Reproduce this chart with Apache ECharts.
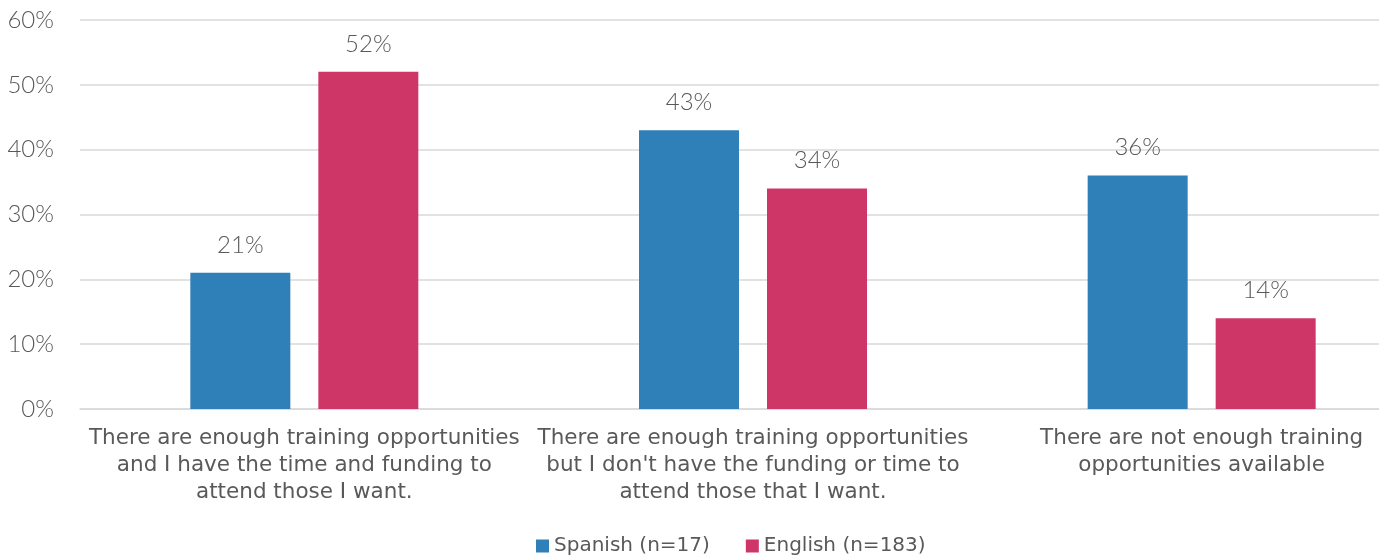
<!DOCTYPE html>
<html>
<head>
<meta charset="utf-8">
<script src="https://cdn.jsdelivr.net/npm/echarts@6/dist/echarts.min.js"></script>
<style>
  html, body { margin: 0; padding: 0; background: #fff; }
  #chart { width: 1379px; height: 559px; }
</style>
</head>
<body>
<div id="chart"></div>
<script>
// Training opportunities by survey language
const categories = [
  'There are enough training opportunities\nand I have the time and funding to\nattend those I want.',
  'There are enough training opportunities\nbut I don\'t have the funding or time to\nattend those that I want.',
  'There are not enough training\nopportunities available'
];
const seriesNames = ['Spanish (n=17)', 'English (n=183)'];
const spanishValues = [21, 43, 36];
const englishValues = [52, 34, 14];
const yTicks = [0, 10, 20, 30, 40, 50, 60];

const textColor = '#595959';
const catFont = '"DejaVu Sans", Verdana, sans-serif';
const numFont = 'Lato, "Noto Sans", sans-serif';

const valueLabel = {
  show: true, position: 'top', distance: 16,
  color: textColor, fontSize: 24, fontWeight: 300, fontFamily: numFont,
  formatter: p => p.value + '%'
};

const chart = echarts.init(document.getElementById('chart'));
chart.setOption({
  animation: false,
  grid: {
    left: 80, width: 1346, top: 20, bottom: 150,
    containLabel: false, outerBoundsMode: 'none'
  },
  legend: {
    data: seriesNames,
    top: 531,
    left: 531,
    itemWidth: 13,
    itemHeight: 13,
    itemGap: 36,
    icon: 'rect',
    textStyle: { color: textColor, fontSize: 20, fontFamily: catFont }
  },
  xAxis: {
    type: 'category',
    data: categories,
    axisTick: { show: false },
    axisLine: { lineStyle: { color: '#D9D9D9', width: 1.5 } },
    axisLabel: {
      color: textColor,
      fontSize: 21.5,
      fontFamily: catFont,
      lineHeight: 27,
      margin: 16,
      interval: 0
    }
  },
  yAxis: {
    type: 'value',
    min: yTicks[0],
    max: yTicks[yTicks.length - 1],
    interval: 10,
    axisLine: { show: false },
    axisTick: { show: false },
    splitLine: { lineStyle: { color: '#D9D9D9', width: 1.5 } },
    axisLabel: {
      color: textColor,
      fontSize: 24,
      fontWeight: 300,
      fontFamily: numFont,
      margin: 26,
      formatter: v => v + '%'
    }
  },
  series: [
    {
      name: seriesNames[0],
      type: 'bar',
      data: spanishValues,
      barWidth: 100,
      barGap: '28%',
      itemStyle: { color: '#2F7FB8' },
      label: valueLabel
    },
    {
      name: seriesNames[1],
      type: 'bar',
      data: englishValues,
      barWidth: 100,
      itemStyle: { color: '#CE3668' },
      label: valueLabel
    }
  ]
});
</script>
</body>
</html>
